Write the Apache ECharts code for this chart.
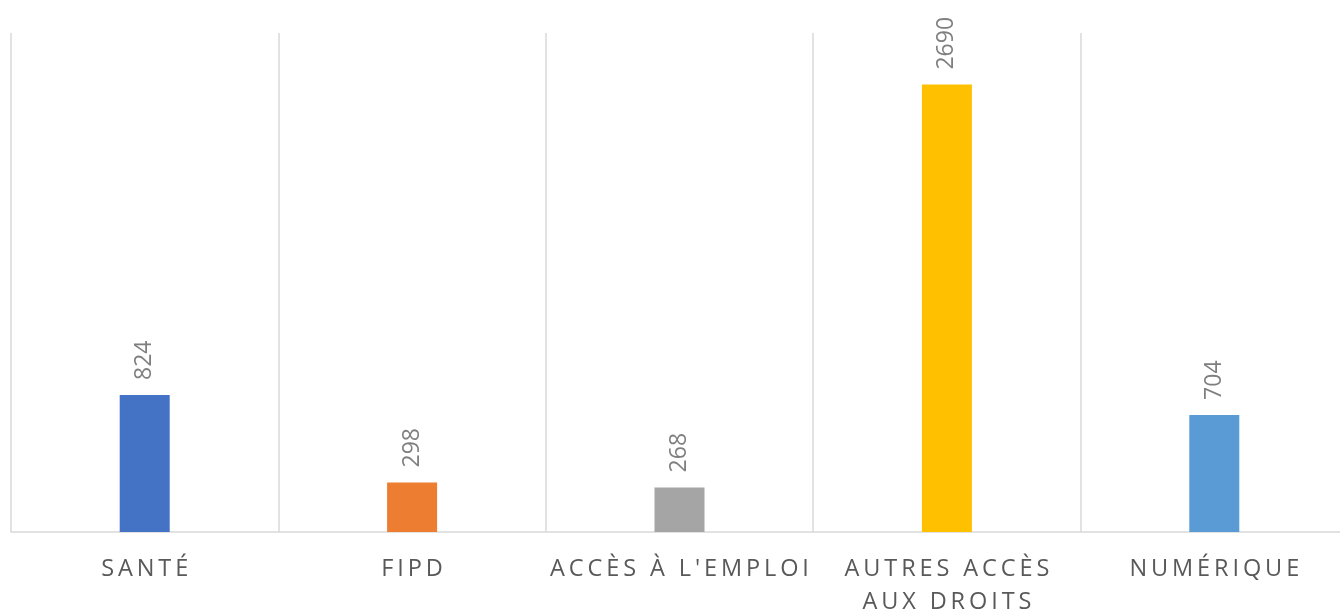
<!DOCTYPE html>
<html>
<head>
<meta charset="utf-8">
<script src="https://cdn.jsdelivr.net/npm/echarts@6/dist/echarts.min.js"></script>
<style>
  html, body { margin: 0; padding: 0; background: #fff; overflow: hidden; }
  /* le graphique déborde un peu à droite, comme dans l'original */
  #chart { width: 1348px; height: 616px; }
</style>
</head>
<body>
<div id="chart"></div>
<script>
// catégories et valeurs
var categories = ['SANTÉ', 'FIPD', "ACCÈS À L'EMPLOI", 'AUTRES ACCÈS\nAUX DROITS', 'NUMÉRIQUE']
var values = [824, 298, 268, 2690, 704]
var colors = ['#4472C4', '#ED7D31', '#A5A5A5', '#FFC000', '#5B9BD5']

// espacement des lettres façon Excel (espace fine entre chaque caractère)
function spaced (str) {
  return str.split('\n').map(function (line) {
    return line.split('').join('\u2009')
  }).join('\n')
}

var myChart = echarts.init(document.getElementById('chart'))
myChart.setOption({
  animation: false,
  grid: {
    left: 11,
    right: 0,
    top: 33,
    bottom: 84,
    outerBoundsMode: 'none'
  },
  xAxis: {
    type: 'category',
    data: categories,
    axisTick: { show: false },
    axisLine: {
      lineStyle: { color: '#d9d9d9', width: 1.5 }
    },
    splitLine: {
      show: true,
      // pas de trait sur le bord droit
      interval: function (i) { return i < categories.length },
      lineStyle: { color: '#d9d9d9', width: 1.5 }
    },
    axisLabel: {
      interval: 0,
      margin: 21,
      color: '#595959',
      fontFamily: 'Open Sans',
      fontSize: 23.5,
      lineHeight: 33,
      formatter: function (v) { return spaced(v) }
    }
  },
  yAxis: {
    type: 'value',
    min: 0,
    max: 3000,
    show: false,
    splitLine: { show: false }
  },
  series: [
    {
      type: 'bar',
      barWidth: 50,
      data: values.map(function (v, i) {
        return { value: v, itemStyle: { color: colors[i] } }
      }),
      label: {
        show: true,
        position: 'top',
        rotate: 90,
        align: 'left',
        verticalAlign: 'middle',
        distance: 15,
        color: '#7f7f7f',
        fontFamily: 'Open Sans',
        fontSize: 23
      }
    }
  ]
})
</script>
</body>
</html>
